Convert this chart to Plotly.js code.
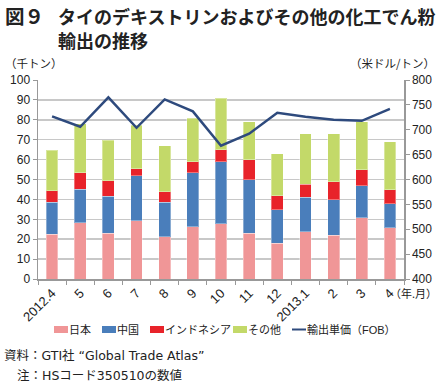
<!DOCTYPE html>
<html><head><meta charset="utf-8">
<script src="https://cdn.plot.ly/plotly-3.0.1.min.js"></script>
<style>body{margin:0;background:#fff}#c{width:444px;height:389px}</style>
</head><body><div id="c"></div>
<script>
const months = ["2012.4","5","6","7","8","9","10","11","12","2013.1","2","3","4"];
const japan = [22.4,28.3,23.1,29.3,21.3,26.3,27.8,22.9,17.9,23.7,21.9,30.8,25.8];
const china = [16.1,16.9,18.6,22.5,17.2,27.1,31.2,26.9,16.9,17.3,17.9,16.0,12.0];
const indonesia = [5.9,8.2,7.7,3.6,5.4,5.6,5.9,10.2,7.0,6.7,9.0,8.0,7.0];
const others = [20.3,24.7,20.3,21.8,23.1,21.7,25.9,19.1,21.2,25.4,24.3,24.3,24.1];
const price = [727,706,765,704,761,737,668,692,734,726,720,718,742];
const seriesNames = ["日本","中国","インドネシア","その他","輸出単価（FOB）"];
const seriesColors = ["#F09697","#4A7EBB","#E8232A","#C3D969","#2E4A7D"];

const F = "Liberation Sans, Arial, 'Noto Sans CJK JP', sans-serif";
const JF = "'Noto Sans CJK JP', sans-serif";
const DF = "'DejaVu Sans', 'Noto Sans CJK JP', sans-serif";
const M = {l:38, r:40, t:80, b:110};
const W = 444, H = 389;
const pw = W - M.l - M.r, ph = H - M.t - M.b;
const px = v => (v - M.l) / pw;
const py = v => (H - M.b - v) / ph;

const bl = {color:"rgba(255,255,255,0.35)", width:1};
const barData = [japan, china, indonesia, others];
const traces = barData.map((d,i) => ({type:"bar", name:seriesNames[i], x:months, y:d,
  marker:{color:seriesColors[i], line:bl}, showlegend:false}));
traces.push({type:"scatter", mode:"lines", name:seriesNames[4], x:months, y:price, yaxis:"y2",
  line:{color:seriesColors[4], width:2.5}, showlegend:false});

function ann(text, x, y, size, anchor, family) {
  return {text, xref:"paper", yref:"paper", x:px(x), y:py(y), xanchor:anchor||"left", yanchor:"middle",
    showarrow:false, borderpad:0, font:{family:family||JF, size, color:"#222"}};
}
const legX = [54,102,150,233,292];
const shapes = [];
const annotations = [
  ann("<b>図９</b>", 4, 16, 19.5),
  ann("<b>タイのデキストリンおよびその他の化工でん粉</b>", 57, 16, 18),
  ann("<b>輸出の推移</b>", 57, 40, 18),
  ann("（千トン）", 4, 63, 11.5),
  ann("（米ドル/トン）", 436, 63, 11.5, "right"),
  ann("（年.月）", 389, 293, 11),
  ann("資料：GTI社 “Global Trade Atlas”", 3, 355, 12.5, "left", DF),
  ann("注：HSコード350510の数値", 16, 375, 12.5, "left", DF)
];
legX.forEach((x,i) => {
  if (i < 4) {
    shapes.push({type:"rect", xref:"paper", yref:"paper", x0:px(x), x1:px(x+14), y0:py(333), y1:py(326),
      fillcolor:seriesColors[i], line:{width:0}});
  } else {
    shapes.push({type:"line", xref:"paper", yref:"paper", x0:px(x), x1:px(x+14), y0:py(329.5), y1:py(329.5),
      line:{color:seriesColors[i], width:2}});
  }
  annotations.push(ann(seriesNames[i], x+14, 329.5, 11, "left", F));
});

const layout = {
  width:W, height:H,
  margin:{l:M.l, r:M.r, t:M.t, b:M.b, autoexpand:false},
  paper_bgcolor:"#fff", plot_bgcolor:"#fff",
  barmode:"stack", bargap:0.58,
  font:{family:F, size:12, color:"#222"},
  showlegend:false,
  xaxis:{type:"category", tickangle:-45, ticks:"outside", tickson:"boundaries", ticklen:4,
    tickcolor:"#999", showline:true, linecolor:"#999", linewidth:1.5, showgrid:false,
    tickfont:{family:F, size:13, color:"#222"}, automargin:false},
  yaxis:{range:[0,100], dtick:10, ticks:"outside", ticklen:4, tickcolor:"#999",
    showline:true, linecolor:"#999", linewidth:1.5, gridcolor:"#c8c8c8", gridwidth:1.5,
    zeroline:false, tickfont:{family:F, size:12, color:"#222"}, automargin:false},
  yaxis2:{range:[400,800], dtick:50, overlaying:"y", side:"right", ticks:"outside", ticklen:4,
    tickcolor:"#999", showline:true, linecolor:"#999", linewidth:1.5, showgrid:false,
    zeroline:false, tickfont:{family:F, size:12, color:"#222"}, automargin:false},
  shapes, annotations
};
Plotly.newPlot("c", traces, layout, {displayModeBar:false, staticPlot:true});
</script></body></html>
